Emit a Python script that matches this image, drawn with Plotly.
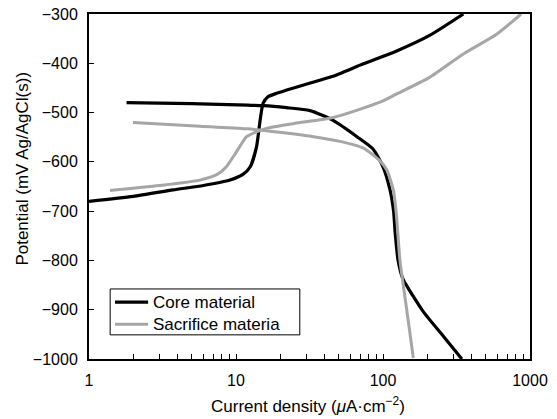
import plotly.graph_objects as go

# Core material - cathodic branch
core_cat_x = [1.8, 5.0, 12.0, 15.3, 22, 31.9, 45.8, 66.5, 85.5, 100, 111.6, 118, 121, 126.5, 136.8, 160, 189, 259, 344]
core_cat_y = [-480, -482, -485, -486, -490, -496, -516, -549, -574, -610, -657, -700, -744, -799, -838, -872, -905, -955, -1000]
# Core material - anodic branch
core_an_x = [1.0, 2.0, 3.73, 6.0, 9.1, 11.2, 12.5, 13.8, 14.6, 15.3, 16.5, 18.9, 24, 32, 45, 73.5, 124, 209, 352]
core_an_y = [-680, -670, -657, -648, -637, -625, -610, -569, -515, -481, -468, -461, -451, -440, -427, -401, -375, -343, -300]
# Sacrifice material - cathodic branch
sac_cat_x = [1.99, 5.69, 12.0, 16.1, 33.6, 50, 73.5, 95.4, 106, 117.6, 123.7, 130.3, 145, 160.8]
sac_cat_y = [-520, -528, -533, -537, -549, -558, -572, -598, -616, -657, -711, -799, -900, -998]
# Sacrifice material - anodic branch
sac_an_x = [1.39, 3.0, 5.69, 7.5, 8.6, 9.8, 10.6, 11.8, 13.5, 16.1, 25, 45.9, 95.4, 124, 209, 352, 593, 870]
sac_an_y = [-658, -648, -637, -625, -610, -585, -569, -549, -540, -532, -522, -510, -479, -462, -428, -381, -341, -300]

series_names = ["Core material", "Sacrifice materia"]
xtick_vals = [1, 2, 3, 4, 5, 6, 7, 8, 9, 10, 20, 30, 40, 50, 60, 70, 80, 90, 100,
              200, 300, 400, 500, 600, 700, 800, 900, 1000]
xtick_text = ["1"] + [" "] * 8 + ["10"] + [" "] * 8 + ["100"] + [" "] * 8 + ["1000"]
ytick_vals = [-1000, -900, -800, -700, -600, -500, -400, -300]
x_title = "Current density (<i>μ</i>A·cm<sup>−2</sup>)"
y_title = "Potential (mV Ag/AgCl(s))"

BLACK = "#000000"
GRAY = "#a6a6a6"

fig = go.Figure()
fig.add_trace(go.Scatter(x=core_cat_x, y=core_cat_y, mode="lines", name=series_names[0],
                         line=dict(color=BLACK, width=3.2, shape="spline", smoothing=0.6)))
fig.add_trace(go.Scatter(x=core_an_x, y=core_an_y, mode="lines", name=series_names[0],
                         line=dict(color=BLACK, width=3.2, shape="spline", smoothing=0.6)))
fig.add_trace(go.Scatter(x=sac_cat_x, y=sac_cat_y, mode="lines", name=series_names[1],
                         line=dict(color=GRAY, width=3, shape="spline", smoothing=0.6)))
fig.add_trace(go.Scatter(x=sac_an_x, y=sac_an_y, mode="lines", name=series_names[1],
                         line=dict(color=GRAY, width=3, shape="spline", smoothing=0.6)))

# Manual legend (box, sample lines, labels) in paper coordinates
legend_box = dict(x0=0.048, x1=0.478, y0=0.070, y1=0.203)
fig.add_shape(type="rect", xref="paper", yref="paper", **legend_box,
              line=dict(color="black", width=1), fillcolor="white", layer="above")
row_y = [0.165, 0.101]
row_colors = [BLACK, GRAY]
row_widths = [3.2, 3]
for name, yy, col, w in zip(series_names, row_y, row_colors, row_widths):
    fig.add_shape(type="line", xref="paper", yref="paper", x0=0.059, x1=0.134, y0=yy, y1=yy,
                  line=dict(color=col, width=w), layer="above")
    fig.add_annotation(xref="paper", yref="paper", x=0.141, y=yy, text=name, showarrow=False,
                       xanchor="left", yanchor="middle", font=dict(size=17, color="black"))

# Axis titles as annotations for precise placement
fig.add_annotation(xref="paper", yref="paper", x=0.497, y=-0.170, text=x_title, showarrow=False,
                   xanchor="center", yanchor="bottom", font=dict(size=17, color="black"))
fig.add_annotation(xref="paper", yref="paper", x=-0.151, y=0.553, text=y_title, showarrow=False,
                   textangle=-90, xanchor="center", yanchor="middle", font=dict(size=17, color="black"))

fig.update_layout(
    width=557, height=419,
    margin=dict(l=89, r=27, t=14, b=60, autoexpand=False),
    paper_bgcolor="white", plot_bgcolor="white",
    font=dict(family="Arial, Liberation Sans, sans-serif", size=16, color="black"),
    showlegend=False,
    xaxis=dict(type="log", range=[0, 3], tickvals=xtick_vals, ticktext=xtick_text,
               tickangle=0, automargin=False,
               ticks="inside", ticklen=5, tickwidth=1, tickcolor="black", ticklabelstandoff=6,
               showgrid=False, zeroline=False,
               showline=True, linecolor="black", linewidth=2, mirror=True),
    yaxis=dict(range=[-1000, -300], tickvals=ytick_vals, automargin=False,
               ticks="inside", ticklen=5, tickwidth=1, tickcolor="black", ticklabelstandoff=6,
               showgrid=False, zeroline=False,
               showline=True, linecolor="black", linewidth=2, mirror=True),
)

fig.write_html("out.html")
